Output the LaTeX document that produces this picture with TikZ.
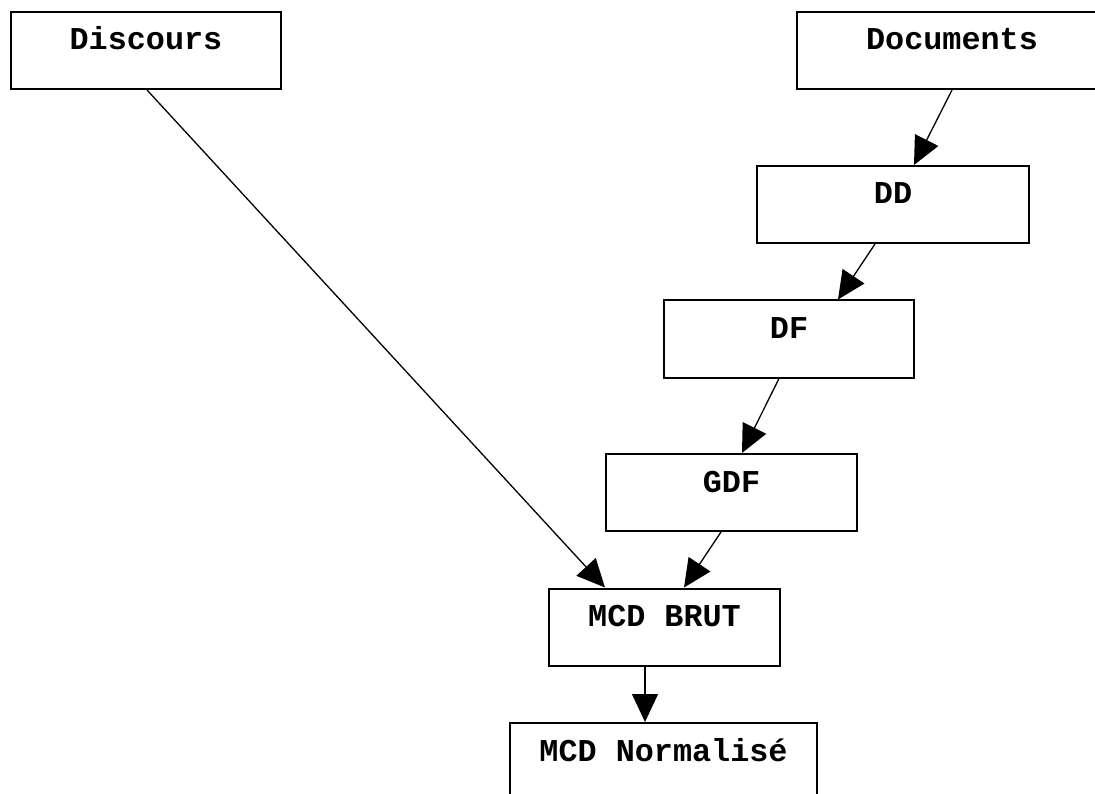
\documentclass[tikz,border=0pt]{standalone}
\usepackage{fontspec}
\setmainfont{Liberation Mono}
\usetikzlibrary{arrows.meta}
\begin{document}
\begin{tikzpicture}[x=1pt,y=-1pt,
  stagebox/.style={draw=black, line width=2pt, rectangle, inner xsep=0pt, inner ysep=0pt,
    text height=38pt, text depth=39pt,
    font=\fontsize{31.8}{36}\selectfont\bfseries},
  flow/.style={line width=1.3pt, -{Triangle[length=28pt,width=26pt]}}]
  \clip (0,0) rectangle (1095,794);
  % source boxes
  \node[stagebox, minimum width=270pt] (disc) at (146,50.5) {Discours};
  \node[stagebox, minimum width=310pt] (docs) at (952,50.5) {Documents};
  % document analysis chain
  \node[stagebox, minimum width=272pt] (dd)  at (893,204.5) {DD};
  \node[stagebox, minimum width=250pt] (df)  at (789,339) {DF};
  \node[stagebox, minimum width=251pt] (gdf) at (731.5,492.5) {GDF};
  % conceptual models
  \node[stagebox, minimum width=231pt] (brut) at (664.5,627) {MCD BRUT};
  \node[stagebox, minimum width=307pt] (norm) at (663.5,761.5) {MCD Normalisé};
  % connectors
  \draw[flow] (docs.south) -- ([xshift=21pt]dd.north);
  \draw[flow] ([xshift=-18pt]dd.south) -- ([xshift=49pt]df.north);
  \draw[flow] ([xshift=-10pt]df.south) -- ([xshift=10.5pt]gdf.north);
  \draw[flow] ([xshift=-10.5pt]gdf.south) -- ([xshift=19.5pt]brut.north);
  \draw[flow] ([xshift=1pt]disc.south) -- ([xshift=-59.5pt]brut.north);
  \draw[flow] ([xshift=-19.5pt]brut.south) -- ([xshift=-18.5pt]norm.north);
\end{tikzpicture}
\end{document}
